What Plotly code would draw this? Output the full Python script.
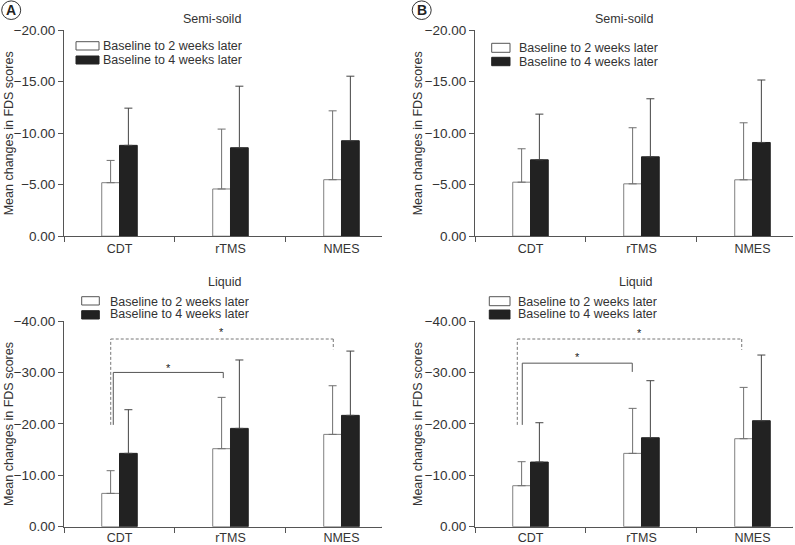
import plotly.graph_objects as go

categories = ["CDT", "rTMS", "NMES"]
series_names = ["Baseline to 2 weeks later", "Baseline to 4 weeks later"]

# Panel A - Semi-soild
a_semi_wk2 = [-5.19, -4.58, -5.48]
a_semi_wk2_err = [2.16, 5.81, 6.68]
a_semi_wk4 = [-8.81, -8.58, -9.26]
a_semi_wk4_err = [3.61, 5.97, 6.26]

# Panel B - Semi-soild
b_semi_wk2 = [-5.24, -5.08, -5.47]
b_semi_wk2_err = [3.24, 5.44, 5.53]
b_semi_wk4 = [-7.41, -7.70, -9.09]
b_semi_wk4_err = [4.43, 5.63, 6.06]

# Panel A - Liquid
a_liq_wk2 = [-6.48, -15.17, -17.95]
a_liq_wk2_err = [4.41, 9.98, 9.46]
a_liq_wk4 = [-14.26, -19.12, -21.65]
a_liq_wk4_err = [8.49, 13.30, 12.50]

# Panel B - Liquid
b_liq_wk2 = [-7.97, -14.26, -17.11]
b_liq_wk2_err = [4.67, 8.75, 9.98]
b_liq_wk4 = [-12.57, -17.30, -20.61]
b_liq_wk4_err = [7.65, 11.09, 12.77]

# significance brackets: (x_left, x_right, y_bar, y_left_end, y_right_end, star_x, star_y, dashed)
a_brackets = [(-0.056, 0.935, -30.0, -19.8, -28.9, 0.437, -31.1, False),
              (-0.079, 1.926, -36.5, -19.8, -34.5, 0.923, -38.2, True)]
b_brackets = [(-0.074, 0.917, -31.8, -19.8, -30.1, 0.425, -33.2, False),
              (-0.119, 1.903, -36.5, -19.8, -34.4, 0.986, -37.9, True)]

W, H = 795, 545
FONT = "Arial, Liberation Sans, Helvetica, sans-serif"
TXT = "#333333"
AX = "#555555"


def px(x):
    return x / W


def py(y):
    return 1 - y / H


fig = go.Figure()

panels = [
    ("x", "y", a_semi_wk2, a_semi_wk2_err, a_semi_wk4, a_semi_wk4_err),
    ("x2", "y2", b_semi_wk2, b_semi_wk2_err, b_semi_wk4, b_semi_wk4_err),
    ("x3", "y3", a_liq_wk2, a_liq_wk2_err, a_liq_wk4, a_liq_wk4_err),
    ("x4", "y4", b_liq_wk2, b_liq_wk2_err, b_liq_wk4, b_liq_wk4_err),
]

for xa, ya, v2, e2, v4, e4 in panels:
    fig.add_trace(go.Bar(
        x=categories, y=v2, name=series_names[0], xaxis=xa, yaxis=ya,
        marker=dict(color="white", line=dict(color="#808080", width=1)),
        error_y=dict(type="data", symmetric=False, array=[0, 0, 0], arrayminus=e2,
                     color="#707070", thickness=1, width=4),
        showlegend=False))
    fig.add_trace(go.Bar(
        x=categories, y=v4, name=series_names[1], xaxis=xa, yaxis=ya,
        marker=dict(color="#222222", line=dict(color="#222222", width=1)),
        error_y=dict(type="data", symmetric=False, array=[0, 0, 0], arrayminus=e4,
                     color="#444444", thickness=1, width=4),
        showlegend=False))

xdomA = [px(64), px(382)]
xdomB = [px(475), px(793)]
ydomTop = [py(236.2), py(30)]
ydomBot = [py(526.7), py(321)]

common_x = dict(type="category", range=[-0.5, 2.365], showline=True, linecolor=AX, linewidth=1,
                ticks="outside", tickson="boundaries", ticklen=5, tickcolor=AX,
                showgrid=False, zeroline=False, automargin=False,
                tickfont=dict(family=FONT, size=12.5, color=TXT))
common_y = dict(showline=True, linecolor=AX, linewidth=1, ticks="outside", ticklen=5, tickcolor=AX,
                showgrid=False, zeroline=False, tickformat=".2f", tick0=0, automargin=False,
                tickfont=dict(family=FONT, size=13.5, color=TXT))

fig.update_layout(
    width=W, height=H,
    margin=dict(l=0, r=0, t=0, b=0, autoexpand=False),
    paper_bgcolor="white", plot_bgcolor="white",
    barmode="group", bargap=0.68, bargroupgap=0,
    xaxis=dict(domain=xdomA, anchor="y", ticklabelstandoff=1, **common_x),
    yaxis=dict(domain=ydomTop, anchor="x", range=[0, -20], dtick=5, **common_y),
    xaxis2=dict(domain=xdomB, anchor="y2", ticklabelstandoff=1, **common_x),
    yaxis2=dict(domain=ydomTop, anchor="x2", range=[0, -20], dtick=5, **common_y),
    xaxis3=dict(domain=xdomA, anchor="y3", ticklabelstandoff=-1, **common_x),
    yaxis3=dict(domain=ydomBot, anchor="x3", range=[0, -40], dtick=10, **common_y),
    xaxis4=dict(domain=xdomB, anchor="y4", ticklabelstandoff=-1, **common_x),
    yaxis4=dict(domain=ydomBot, anchor="x4", range=[0, -40], dtick=10, **common_y),
    showlegend=False,
)

shapes = []
annotations = []

# end ticks of x axes
for xa, ya in [("x", "y"), ("x2", "y2"), ("x3", "y3"), ("x4", "y4")]:
    shapes.append(dict(type="line", xref=xa, yref=ya, x0=2.365, x1=2.365,
                       ysizemode="pixel", yanchor=0, y0=0, y1=-5,
                       line=dict(color=AX, width=1)))

# brackets
for xa, ya, brs in [("x3", "y3", a_brackets), ("x4", "y4", b_brackets)]:
    for xl, xr, yb, yle, yre, sx, sy, dashed in brs:
        ln = dict(color="#777777" if dashed else "#555555", width=1,
                  dash="3px,2px" if dashed else "solid")
        shapes.append(dict(type="line", xref=xa, yref=ya, x0=xl, x1=xl, y0=yle, y1=yb, line=ln))
        shapes.append(dict(type="line", xref=xa, yref=ya, x0=xl, x1=xr, y0=yb, y1=yb, line=ln))
        shapes.append(dict(type="line", xref=xa, yref=ya, x0=xr, x1=xr, y0=yb, y1=yre, line=ln))
        annotations.append(dict(xref=xa, yref=ya, x=sx, y=sy, text="*", showarrow=False,
                                yshift=-1.5, font=dict(family=FONT, size=11, color="#222222")))

# custom legends: (rect x0, x1, row1 y0, y1, row2 y0, y1, text x, text y1, text y2)
legends = [
    (76, 99, 41.7, 50, 56, 64, 102, 45.7, 60),
    (491.7, 510, 43.3, 52.3, 57.3, 65.7, 518.3, 48.3, 61.7),
    (81.7, 99.3, 296.7, 305, 310.7, 319, 109, 301.7, 314.3),
    (489.3, 510, 296.7, 305.7, 310, 319, 516.7, 301.7, 314),
]
for x0, x1, a0, a1, b0, b1, tx, t1, t2 in legends:
    shapes.append(dict(type="rect", xref="paper", yref="paper", x0=px(x0), x1=px(x1),
                       y0=py(a1), y1=py(a0), fillcolor="white", line=dict(color="#555555", width=1)))
    shapes.append(dict(type="rect", xref="paper", yref="paper", x0=px(x0), x1=px(x1),
                       y0=py(b1), y1=py(b0), fillcolor="#222222", line=dict(color="#222222", width=1)))
    annotations.append(dict(xref="paper", yref="paper", x=px(tx), y=py(t1), text=series_names[0],
                            showarrow=False, xanchor="left", yanchor="middle", height=12, borderpad=0,
                            font=dict(family=FONT, size=12.5, color=TXT)))
    annotations.append(dict(xref="paper", yref="paper", x=px(tx), y=py(t2), text=series_names[1],
                            showarrow=False, xanchor="left", yanchor="middle", height=12, borderpad=0,
                            font=dict(family=FONT, size=12.5, color=TXT)))

# panel titles
for text, x, y in [("Semi-soild", 212, 19), ("Semi-soild", 623.5, 19),
                   ("Liquid", 224.5, 282), ("Liquid", 635.5, 282)]:
    annotations.append(dict(xref="paper", yref="paper", x=px(x), y=py(y), text=text,
                            showarrow=False, xanchor="center", yanchor="middle",
                            font=dict(family=FONT, size=12.5, color=TXT)))

# y axis titles
for x, y in [(9, 133.3), (418, 133.3), (9, 424), (418, 424)]:
    annotations.append(dict(xref="paper", yref="paper", x=px(x), y=py(y),
                            text="Mean changes in FDS scores", textangle=-90,
                            showarrow=False, xanchor="center", yanchor="middle",
                            font=dict(family=FONT, size=12.5, color=TXT)))

# panel letters
for letter, cx, cy in [("A", 11.2, 10.2), ("B", 421.7, 10.2)]:
    shapes.append(dict(type="circle", xref="paper", yref="paper",
                       x0=px(cx - 9.5), x1=px(cx + 9.5), y0=py(cy + 9.3), y1=py(cy - 9.3),
                       line=dict(color="#333333", width=1)))
    annotations.append(dict(xref="paper", yref="paper", x=px(cx), y=py(cy), text="<b>%s</b>" % letter,
                            showarrow=False, xanchor="center", yanchor="middle",
                            font=dict(family=FONT, size=14, color="#222222")))

fig.update_layout(shapes=shapes, annotations=annotations)

fig.write_html("out.html", config={"displayModeBar": False},
               post_script="document.body.style.margin='0px';document.body.style.overflow='hidden';")
